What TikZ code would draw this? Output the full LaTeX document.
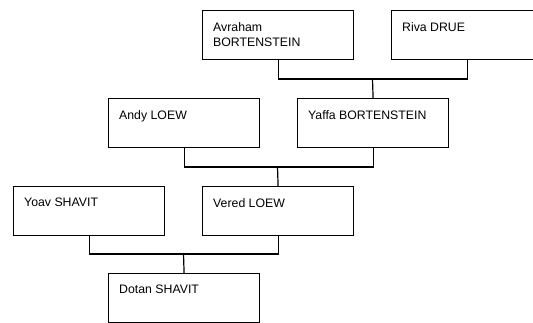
\documentclass[tikz,border=0pt]{standalone}
\usepackage{fontspec}
\setmainfont{Liberation Sans}
\begin{document}
\begin{tikzpicture}[x=1pt,y=-1pt,
  person/.style={draw=black, line width=1.2pt, rectangle, minimum width=151pt, minimum height=49pt, inner sep=0pt, anchor=north west},
  nametext/.style={anchor=north west, inner sep=0pt, align=left, font=\fontsize{12.3}{15.7}\selectfont, text=black},
  link/.style={draw=black, line width=1.2pt}]
\useasboundingbox (0,0) rectangle (533,323);
\clip (0,0) rectangle (533,323);
% boxes
\node[person] (avr) at (202,10) {};
\node[person] (riva) at (391,10) {};
\node[person] (andy) at (108,98) {};
\node[person] (yaffa) at (297,98) {};
\node[person] (yoav) at (13,186) {};
\node[person] (vered) at (202,186) {};
\node[person] (dotan) at (108,273) {};
% texts
\node[nametext] (tavr) at ([xshift=11pt,yshift=-12pt]avr.north west) {Avraham\\BORTENSTEIN};
\node[nametext] (triva) at ([xshift=11pt,yshift=-12pt]riva.north west) {Riva DRUE};
\node[nametext] (tandy) at ([xshift=11pt,yshift=-12pt]andy.north west) {Andy LOEW};
\node[nametext] (tyaffa) at ([xshift=11pt,yshift=-12pt]yaffa.north west) {Yaffa BORTENSTEIN};
\node[nametext] (tyoav) at ([xshift=11pt,yshift=-12pt]yoav.north west) {Yoav SHAVIT};
\node[nametext] (tvered) at ([xshift=11pt,yshift=-12pt]vered.north west) {Vered LOEW};
\node[nametext] (tdotan) at ([xshift=11pt,yshift=-12pt]dotan.north west) {Dotan SHAVIT};
% connectors
\coordinate (j1) at (372.5,79);
\draw[link] (avr.south) |- (j1) -| (riva.south);
\draw[link] (j1) -- (yaffa.north);
\coordinate (j2) at (277.5,167);
\draw[link] (andy.south) |- (j2) -| (yaffa.south);
\draw[link] (j2) -- (vered.north);
\coordinate (j3) at (183.5,254);
\draw[link] (yoav.south) |- (j3) -| (vered.south);
\draw[link] (j3) -- (dotan.north);
\end{tikzpicture}
\end{document}
